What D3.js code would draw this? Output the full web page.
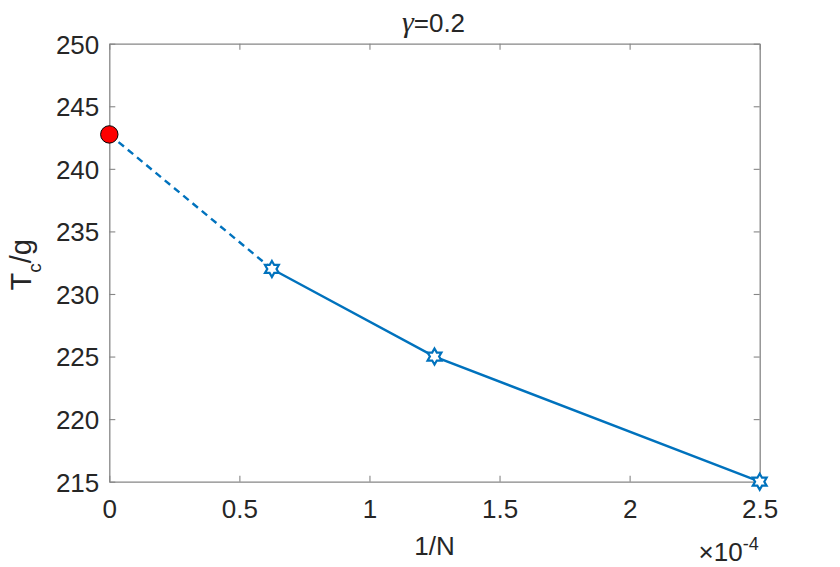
<!DOCTYPE html>
<html>
<head>
<meta charset="utf-8">
<script src="https://cdn.jsdelivr.net/npm/d3@7"></script>
<style>
  body { margin: 0; background: #fff; }
  svg text { font-family: "Liberation Sans", Arial, sans-serif; fill: #262626; }
</style>
</head>
<body>
<div id="chart"></div>
<script>
// values (x in units of 1e-4)
var invN = [0, 0.625, 1.25, 2.5];
var Tc = [242.75, 232, 225, 215];
var xTicks = [0, 0.5, 1, 1.5, 2, 2.5];
var yTicks = [215, 220, 225, 230, 235, 240, 245, 250];

var W = 840, H = 567;
var margin = {top: 43.7, right: 80.3, bottom: 85.3, left: 109.3};
var w = W - margin.left - margin.right;
var h = H - margin.top - margin.bottom;

var blue = "#0072BD";
var axisCol = "#868686";

var svg = d3.select("#chart").append("svg")
  .attr("width", W).attr("height", H);

var g = svg.append("g")
  .attr("transform", "translate(" + margin.left + "," + margin.top + ")");

var xScale = d3.scaleLinear().domain([0, 2.5]).range([0, w]);
var yScale = d3.scaleLinear().domain([215, 250]).range([h, 0]);

// axes, ticks pointing inward like matlab
var fmtX = function(d) { return d3.format("")(d); };
g.append("g").attr("class", "xaxis")
  .attr("transform", "translate(0," + h + ")")
  .call(d3.axisBottom(xScale).tickValues(xTicks).tickFormat(fmtX).tickSizeInner(-6).tickSizeOuter(0).tickPadding(18));
g.append("g").attr("class", "xaxis2")
  .call(d3.axisTop(xScale).tickValues(xTicks).tickFormat("").tickSizeInner(-6).tickSizeOuter(0));
g.append("g").attr("class", "yaxis")
  .call(d3.axisLeft(yScale).tickValues(yTicks).tickSizeInner(-6).tickSizeOuter(0).tickPadding(10));
g.append("g").attr("class", "yaxis2")
  .attr("transform", "translate(" + w + ",0)")
  .call(d3.axisRight(yScale).tickValues(yTicks).tickFormat("").tickSizeInner(-6).tickSizeOuter(0));

g.selectAll(".domain").attr("stroke", axisCol).attr("stroke-width", 1.3);
g.selectAll(".tick line").attr("stroke", axisCol).attr("stroke-width", 1.1);
g.selectAll(".tick text").style("font-size", "26px").attr("fill", "#262626");
g.selectAll(".yaxis .tick text").attr("dy", "0.36em");

// hexagram marker
var hexagram = {
  draw: function(ctx, size) {
    var r = Math.sqrt(size);
    var ri = r / Math.sqrt(3);
    for (var i = 0; i < 12; i++) {
      var a = Math.PI / 6 * i - Math.PI / 2;
      var rr = (i % 2 === 0) ? r : ri;
      var px = rr * Math.cos(a), py = rr * Math.sin(a);
      if (i === 0) ctx.moveTo(px, py); else ctx.lineTo(px, py);
    }
    ctx.closePath();
  }
};

var pts = invN.map(function(d, i) { return {x: d, y: Tc[i]}; });
var line = d3.line()
  .x(function(d) { return xScale(d.x); })
  .y(function(d) { return yScale(d.y); });

// extrapolated part, dashed
g.append("path")
  .datum(pts.slice(0, 2))
  .attr("d", line)
  .attr("fill", "none")
  .attr("stroke", blue)
  .attr("stroke-width", 2.4)
  .attr("stroke-dasharray", "7,5");

// computed part
g.append("path")
  .datum(pts.slice(1))
  .attr("d", line)
  .attr("fill", "none")
  .attr("stroke", blue)
  .attr("stroke-width", 2.4);

g.selectAll(".star")
  .data(pts.slice(1))
  .enter().append("path")
  .attr("class", "star")
  .attr("transform", function(d) { return "translate(" + xScale(d.x) + "," + yScale(d.y) + ")"; })
  .attr("d", d3.symbol().type(hexagram).size(64))
  .attr("fill", "#fff")
  .attr("stroke", blue)
  .attr("stroke-width", 2.2);

g.append("circle")
  .attr("cx", xScale(pts[0].x))
  .attr("cy", yScale(pts[0].y))
  .attr("r", 8.7)
  .attr("fill", "#ff0000")
  .attr("stroke", "#000")
  .attr("stroke-width", 1);

// labels
svg.append("text")
  .attr("x", margin.left + w / 2)
  .attr("y", 555)
  .attr("text-anchor", "middle")
  .style("font-size", "26px")
  .text("1/N");

var yl = svg.append("text")
  .attr("transform", "translate(31," + (margin.top + h / 2 + 2) + ") rotate(-90)")
  .attr("text-anchor", "middle")
  .style("font-size", "29px");
yl.append("tspan").text("T");
yl.append("tspan").attr("dy", 10).style("font-size", "19px").text("c");
yl.append("tspan").attr("dy", -10).text("/g");

var title = svg.append("text")
  .attr("x", margin.left + w / 2 - 1)
  .attr("y", 32)
  .attr("text-anchor", "middle")
  .style("font-size", "26px");
title.append("tspan").style("font-family", "'Liberation Serif', serif").style("font-style", "italic").style("font-size", "30px").text("γ");
title.append("tspan").text("=0.2");

var ex = svg.append("text")
  .attr("x", margin.left + w - 1)
  .attr("y", 560.5)
  .attr("text-anchor", "end")
  .style("font-size", "26px");
ex.append("tspan").text("×");
ex.append("tspan").text("10");
ex.append("tspan").attr("dy", -11).style("font-size", "18px").text("-4");
</script>
</body>
</html>
